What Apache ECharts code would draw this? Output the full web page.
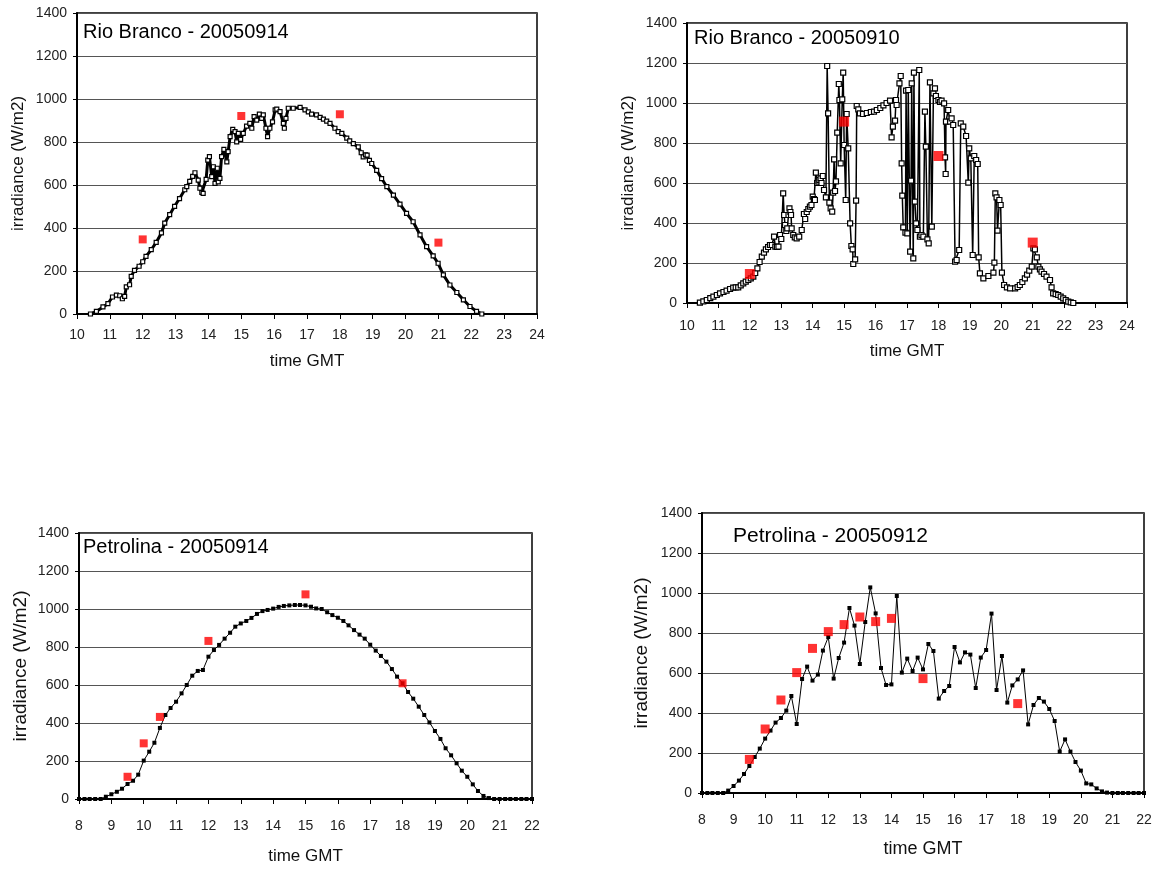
<!DOCTYPE html>
<html>
<head>
<meta charset="utf-8">
<script src="https://cdn.jsdelivr.net/npm/echarts@6/dist/echarts.min.js"></script>
<style>
  html, body { margin: 0; padding: 0; background: #fff; }
  #irr_chart { width: 1158px; height: 869px; }
</style>
</head>
<body>
<div id="irr_chart"></div>
<script>
// Rio Branco 2005-09-14 (dense record)
var rb14Time = [10.41, 10.59, 10.79, 10.94, 11.08, 11.2, 11.3, 11.38, 11.45, 11.5, 11.6, 11.65, 11.75, 11.89, 12.0, 12.1, 12.26, 12.41, 12.57, 12.67, 12.82, 12.97, 13.12,
  13.28, 13.34, 13.43, 13.52, 13.59, 13.69, 13.74, 13.8, 13.84, 13.93, 13.98, 14.03, 14.1, 14.15, 14.2, 14.27, 14.3, 14.35, 14.4, 14.47, 14.56, 14.6, 14.66, 14.74, 14.81, 14.86, 14.91, 14.98,
  15.06, 15.16, 15.26, 15.32, 15.39, 15.47, 15.55, 15.62, 15.67, 15.75, 15.8, 15.87, 15.95, 16.03, 16.08, 16.18, 16.28, 16.31, 16.36, 16.43, 16.58, 16.79, 16.94, 17.04, 17.14, 17.29, 17.4, 17.5, 17.6, 17.7, 17.85, 17.95,
  18.06, 18.21, 18.3, 18.41, 18.56, 18.65, 18.71, 18.78, 18.83, 18.9, 18.97, 19.12, 19.27, 19.43, 19.63, 19.83, 20.03, 20.23, 20.44, 20.64, 20.84, 20.99, 21.15, 21.35, 21.56, 21.76, 21.96, 22.16, 22.32];
var rb14Irr = [0, 12, 33, 48, 79, 88, 85, 71, 82, 126, 136, 175, 203, 222, 243, 268, 299, 333, 377, 423, 462, 501, 537,
  578, 592, 617, 640, 657, 623, 585, 566, 561, 626, 716, 732, 639, 685, 608, 678, 615, 631, 732, 766, 708, 755, 825, 859, 848, 801, 840, 812,
  840, 874, 887, 864, 918, 902, 930, 910, 926, 864, 825, 864, 894, 949, 953, 941, 887, 864, 910, 957, 957, 961, 949, 940, 930, 926, 915, 906, 897, 887, 864, 848,
  840, 818, 805, 792, 777, 750, 731, 740, 739, 715, 700, 668, 630, 592, 553, 511, 468, 429, 368, 313, 270, 236, 182, 135, 100, 66, 35, 12, 0];
var rb14RefTime = [12, 15, 18, 21];
var rb14RefIrr = [347, 921, 929, 332];

// Rio Branco 2005-09-10
var rb10Time = [10.41, 10.52, 10.63, 10.74, 10.84, 10.95, 11.05, 11.16, 11.26, 11.37, 11.47, 11.55, 11.63, 11.71, 11.79, 11.87, 11.95, 12.03, 12.11, 12.17, 12.24, 12.31, 12.38, 12.45, 12.51, 12.58, 12.64, 12.7, 12.77, 12.81, 12.86, 12.91, 12.96, 13.0,
  13.06, 13.09, 13.12, 13.16, 13.19, 13.23, 13.26, 13.29, 13.31, 13.33, 13.38, 13.43, 13.49, 13.57, 13.65, 13.72, 13.76, 13.81, 13.86, 13.91, 13.96, 14.0, 14.04, 14.07, 14.1, 14.14, 14.18, 14.21, 14.25, 14.28, 14.32, 14.36, 14.42,
  14.46, 14.49, 14.53, 14.57, 14.62, 14.65, 14.68, 14.71, 14.74, 14.78, 14.83, 14.85, 14.89, 14.94, 14.97, 15.0, 15.05, 15.08, 15.13, 15.19, 15.23, 15.27, 15.29, 15.35, 15.38, 15.4, 15.45, 15.5, 15.6, 15.72, 15.85, 15.95,
  16.04, 16.15, 16.25, 16.35, 16.46, 16.51, 16.55, 16.62, 16.65, 16.67, 16.76, 16.8, 16.83, 16.85, 16.88, 16.95, 16.97, 17.01, 17.04, 17.1, 17.13, 17.15, 17.2, 17.22, 17.25, 17.29, 17.33, 17.39, 17.41, 17.46, 17.52, 17.57, 17.6, 17.65, 17.69, 17.73, 17.79, 17.84, 17.89, 17.92,
  18.0, 18.05, 18.1, 18.18, 18.21, 18.23, 18.24, 18.31, 18.37, 18.42, 18.47, 18.53, 18.58, 18.66, 18.71, 18.79, 18.88, 18.95, 18.98, 19.03, 19.09, 19.14, 19.2, 19.25, 19.28, 19.32, 19.43, 19.59, 19.75, 19.78, 19.81, 19.85, 19.88, 19.94, 19.98,
  20.02, 20.09, 20.18, 20.28, 20.44, 20.52, 20.59, 20.67, 20.75, 20.82, 20.89, 20.97, 21.02, 21.07, 21.13, 21.18, 21.23, 21.28, 21.36, 21.44, 21.55, 21.6, 21.65, 21.73, 21.81, 21.89, 21.97, 22.05, 22.13, 22.21, 22.29];
var rb10Irr = [2, 8, 15, 24, 32, 40, 48, 55, 62, 70, 77, 78, 78, 88, 98, 107, 115, 123, 132, 150, 173, 205, 232, 252, 268, 280, 290, 290, 332, 282, 280, 282, 340, 320,
  548, 440, 390, 360, 373, 440, 473, 455, 440, 373, 340, 328, 323, 332, 365, 445, 420, 455, 470, 482, 490, 532, 520, 515, 652, 600, 607, 615, 623, 600, 635, 565, 528,
  1185, 948, 502, 473, 457, 552, 718, 560, 608, 852, 1095, 1015, 698, 1018, 1152, 790, 515, 945, 773, 398, 285, 268, 195, 218, 512, 985, 968, 948, 945, 950, 955, 957,
  965, 975, 988, 1000, 1012, 828, 882, 912, 1015, 990, 1098, 1135, 698, 537, 378, 352, 1062, 348, 1065, 257, 612, 1098, 223, 1152, 507, 398, 365, 1165, 332, 340, 332, 957, 782, 318, 298, 1103, 382, 1048, 1073, 1035,
  1015, 1005, 1012, 998, 728, 645, 907, 965, 907, 923, 890, 207, 215, 265, 898, 882, 835, 602, 773, 723, 240, 735, 715, 695, 228, 148, 123, 135, 152, 202, 548, 528, 362, 515, 490,
  152, 90, 78, 73, 73, 80, 90, 105, 123, 142, 162, 182, 273, 268, 228, 182, 168, 157, 145, 132, 115, 78, 48, 44, 40, 32, 23, 15, 7, 3, 0];
var rb10RefTime = [12, 15, 18, 21];
var rb10RefIrr = [145, 907, 735, 302];

// Petrolina, 10 minute records
var peTime = [8.0, 8.17, 8.33, 8.5, 8.67, 8.83, 9.0, 9.17, 9.33, 9.5, 9.67, 9.83, 10.0, 10.17, 10.33, 10.5, 10.67, 10.83, 11.0, 11.17, 11.33, 11.5, 11.67, 11.83,
  12.0, 12.17, 12.33, 12.5, 12.67, 12.83, 13.0, 13.17, 13.33, 13.5, 13.67, 13.83, 14.0, 14.17, 14.33, 14.5, 14.67, 14.83, 15.0, 15.17, 15.33, 15.5, 15.67, 15.83,
  16.0, 16.17, 16.33, 16.5, 16.67, 16.83, 17.0, 17.17, 17.33, 17.5, 17.67, 17.83, 18.0, 18.17, 18.33, 18.5, 18.67, 18.83, 19.0, 19.17, 19.33, 19.5, 19.67, 19.83,
  20.0, 20.17, 20.33, 20.5, 20.67, 20.83, 21.0, 21.17, 21.33, 21.5, 21.67, 21.83, 22.0];
var pe14Irr = [0, 0, 0, 0, 0, 12, 25, 38, 54, 79, 96, 128, 202, 249, 296, 374, 442, 479, 512, 556, 600, 649, 674, 679,
  749, 784, 811, 844, 875, 907, 924, 937, 953, 974, 989, 995, 1002, 1011, 1016, 1019, 1021, 1021, 1019, 1012, 1003, 1000, 983, 968,
  954, 937, 914, 889, 865, 844, 812, 781, 753, 723, 684, 644, 609, 563, 528, 486, 442, 403, 358, 316, 267, 230, 188, 149,
  117, 77, 42, 16, 5, 0, 0, 0, 0, 0, 0, 0, 0];
var pe14RefTime = [9.5, 10, 10.5, 12, 15, 18];
var pe14RefIrr = [117, 293, 432, 832, 1077, 609];

var pe12Irr = [0, 0, 0, 0, 0, 12, 35, 62, 95, 135, 180, 222, 272, 312, 352, 375, 412, 485, 345, 570, 632, 562, 592, 712,
  780, 572, 675, 752, 925, 837, 645, 855, 1028, 898, 625, 540, 543, 985, 602, 672, 610, 677, 618, 745, 710, 472, 510, 535,
  730, 653, 703, 692, 525, 677, 715, 897, 515, 685, 452, 538, 568, 613, 343, 440, 475, 457, 420, 360, 207, 268, 207, 155,
  112, 48, 43, 23, 8, 2, 0, 0, 0, 0, 0, 0, 0];
var pe12RefTime = [9.5, 10, 10.5, 11, 11.5, 12, 12.5, 13, 13.5, 14, 15, 18];
var pe12RefIrr = [168, 320, 465, 602, 723, 807, 842, 880, 857, 873, 572, 447];

var titles = ['Rio Branco - 20050914', 'Rio Branco - 20050910', 'Petrolina - 20050914', 'Petrolina - 20050912'];

function pairs(t, v) {
  var out = [];
  for (var i = 0; i < t.length; i++) out.push([t[i], v[i]]);
  return out;
}

var FONT = '"Liberation Sans", Arial, sans-serif';
// plain numbers, no thousands separator
function plain(v) { return String(v); }

// one x axis per panel
function xAx(idx, min, max, margin, gap, nameSize) {
  return {
    gridIndex: idx, type: 'value', min: min, max: max, interval: 1,
    name: 'time GMT', nameLocation: 'middle', nameGap: gap,
    nameTextStyle: { fontFamily: FONT, fontSize: nameSize, color: '#111' },
    axisLine: { onZero: false, lineStyle: { color: '#000', width: 2 } },
    axisTick: { show: true, length: 5, lineStyle: { color: '#000' } },
    axisLabel: { fontFamily: FONT, fontSize: 14, color: '#222', margin: margin, formatter: plain },
    splitLine: { show: false }
  };
}
function yAx(idx, gap, nameSize) {
  return {
    gridIndex: idx, type: 'value', min: 0, max: 1400, interval: 200,
    name: 'irradiance (W/m2)', nameLocation: 'middle', nameGap: gap,
    nameTextStyle: { fontFamily: FONT, fontSize: nameSize, color: '#111' },
    axisLine: { show: true, lineStyle: { color: '#000', width: 2 } },
    axisTick: { show: true, length: 4, lineStyle: { color: '#000' } },
    axisLabel: { fontFamily: FONT, fontSize: 14, color: '#222', margin: 10, formatter: plain },
    splitLine: { show: true, lineStyle: { color: '#555', width: 1 } }
  };
}
function ttl(text, left, top, size) {
  return { text: text, left: left, top: top, padding: 0,
    textStyle: { fontFamily: FONT, fontSize: size, fontWeight: 'normal', color: '#000' } };
}
function refSeries(idx, t, v, size) {
  return { type: 'scatter', xAxisIndex: idx, yAxisIndex: idx, symbol: 'rect', symbolSize: size,
    itemStyle: { color: '#ff0000' }, z: 5, data: pairs(t, v) };
}

var myChart = echarts.init(document.getElementById('irr_chart'));

var option = {
  animation: false,
  backgroundColor: '#fff',
  title: [
    ttl(titles[0], 83, 22, 20),
    ttl(titles[1], 694, 28, 20),
    ttl(titles[2], 83, 537, 20),
    ttl(titles[3], 733, 526, 21)
  ],
  grid: [
    { left: 77, top: 13, width: 460, height: 301, show: true, borderColor: '#000', borderWidth: 1.5 },
    { left: 687, top: 23, width: 440, height: 280, show: true, borderColor: '#000', borderWidth: 1.5 },
    { left: 79, top: 533, width: 453, height: 266, show: true, borderColor: '#000', borderWidth: 1.5 },
    { left: 702, top: 513, width: 442, height: 280, show: true, borderColor: '#000', borderWidth: 1.5 }
  ],
  xAxis: [
    xAx(0, 10, 24, 14, 39, 17),
    xAx(1, 10, 24, 16, 40, 17),
    xAx(2, 8, 22, 20, 49, 17),
    xAx(3, 8, 22, 20, 47, 18)
  ],
  yAxis: [
    yAx(0, 50, 17),
    yAx(1, 50, 17),
    yAx(2, 49, 19),
    yAx(3, 51, 19)
  ],
  series: [
    {
      // dense record: heavy line under small open squares
      type: 'line', xAxisIndex: 0, yAxisIndex: 0, showAllSymbol: true,
      symbol: 'rect', symbolSize: 4,
      lineStyle: { color: '#000', width: 3 },
      itemStyle: { color: '#fff', borderColor: '#000', borderWidth: 1.2 },
      data: pairs(rb14Time, rb14Irr)
    },
    refSeries(0, rb14RefTime, rb14RefIrr, 8),
    {
      type: 'line', xAxisIndex: 1, yAxisIndex: 1, showAllSymbol: true,
      symbol: 'rect', symbolSize: 5,
      lineStyle: { color: '#000', width: 1.5 },
      itemStyle: { color: '#fff', borderColor: '#000', borderWidth: 1.2 },
      data: pairs(rb10Time, rb10Irr)
    },
    refSeries(1, rb10RefTime, rb10RefIrr, 10),
    {
      type: 'line', xAxisIndex: 2, yAxisIndex: 2, showAllSymbol: true,
      symbol: 'rect', symbolSize: 4,
      lineStyle: { color: '#000', width: 1 },
      itemStyle: { color: '#000' },
      data: pairs(peTime, pe14Irr)
    },
    refSeries(2, pe14RefTime, pe14RefIrr, 8),
    {
      type: 'line', xAxisIndex: 3, yAxisIndex: 3, showAllSymbol: true,
      symbol: 'rect', symbolSize: 4,
      lineStyle: { color: '#000', width: 1 },
      itemStyle: { color: '#000' },
      data: pairs(peTime, pe12Irr)
    },
    refSeries(3, pe12RefTime, pe12RefIrr, 9)
  ]
};

myChart.setOption(option);
</script>
</body>
</html>
